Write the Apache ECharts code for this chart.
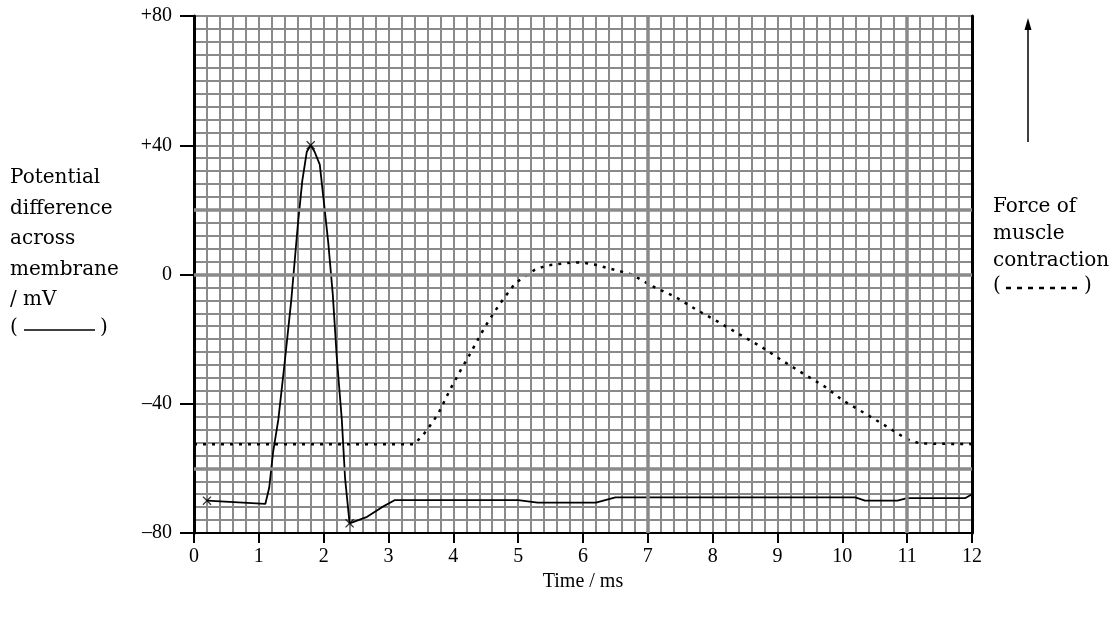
<!DOCTYPE html>
<html>
<head>
<meta charset="utf-8">
<script src="https://cdn.jsdelivr.net/npm/echarts@6/dist/echarts.min.js"></script>
<style>html,body{margin:0;padding:0;background:#fff}#c{width:1117px;height:617px}</style>
</head>
<body>
<div id="c"></div>
<script>
// Membrane potential (solid line), time in ms, potential in mV
const timesV = [0.2, 1.1, 1.16, 1.22, 1.3, 1.4, 1.5, 1.6, 1.67, 1.74, 1.8, 1.86, 1.94, 2.0, 2.07, 2.14, 2.2, 2.28, 2.33, 2.4, 2.67, 2.9, 3.1, 5.0, 5.3, 6.2, 6.5, 10.2, 10.35, 10.85, 11.0, 11.9, 12.0];
const potential = [-70, -71, -66, -55, -45, -27, -8, 15, 29, 38, 40, 38, 34, 23, 10, -6, -25, -45, -63, -77, -75, -72, -69.8, -69.8, -70.6, -70.6, -69, -69, -70, -70, -69.2, -69.2, -68];
// Force of muscle contraction (dotted line), plotted on the same scale
const timesF = [0, 3.4, 3.56, 3.67, 3.77, 3.95, 4.13, 4.23, 4.41, 4.5, 4.62, 4.72, 4.83, 4.95, 5.08, 5.26, 5.44, 5.83, 6.0, 6.19, 6.57, 6.75, 7.08, 7.27, 7.43, 7.75, 8.08, 8.42, 8.76, 9.07, 9.39, 9.73, 10.01, 10.35, 10.68, 11.0, 11.2, 12];
const force = [-52.5, -52.5, -49, -46, -43, -35.6, -29, -25.6, -19, -15.8, -12, -9, -6, -2.8, -0.9, 1.5, 2.8, 3.7, 3.7, 3, 1, 0, -3.7, -5.5, -7, -10.9, -14.6, -18.6, -22.5, -26.6, -30.6, -34.7, -39, -43, -47, -51, -52.3, -52.5];
// Crosses drawn on the potential curve
const crossT = [0.2, 1.8, 2.4];
const crossV = [-70, 40, -77];
// Thicker grid lines
const majorX = [7, 11];
const majorY = [20, 0, -60];
// Axis ranges / tick steps
const xTicks = [0, 12, 1];
const yTicks = [-80, 80, 40];

const FONT = 'Liberation Serif';
const SIDE = '20px "DejaVu Serif"';
const chart = echarts.init(document.getElementById('c'), null, {renderer: 'canvas'});
const zip = (a, b) => a.map((v, i) => [v, b[i]]);
const gridLine = {show: true, lineStyle: {color: '#8a8a8a', width: 2}};

chart.setOption({
  animation: false,
  backgroundColor: '#fff',
  grid: {left: 194, right: 145, top: 16, bottom: 84},
  xAxis: [
    {type: 'value', min: xTicks[0], max: xTicks[1], interval: 0.2, position: 'bottom',
     axisLine: {show: false}, axisTick: {show: false}, axisLabel: {show: false}, splitLine: gridLine},
    {type: 'value', min: xTicks[0], max: xTicks[1], interval: xTicks[2], position: 'bottom',
     axisLine: {show: true, onZero: false, lineStyle: {color: '#000', width: 2}},
     axisTick: {show: true, length: 10, lineStyle: {color: '#000', width: 2}},
     axisLabel: {color: '#000', fontFamily: FONT, fontSize: 20, margin: 14},
     splitLine: {show: false},
     name: 'Time / ms', nameLocation: 'middle', nameGap: 35,
     nameTextStyle: {color: '#000', fontFamily: FONT, fontSize: 20}}
  ],
  yAxis: [
    {type: 'value', min: yTicks[0], max: yTicks[1], interval: 4, position: 'right',
     axisLine: {show: true, onZero: false, lineStyle: {color: '#000', width: 3}},
     axisTick: {show: false}, axisLabel: {show: false}, splitLine: gridLine},
    {type: 'value', min: yTicks[0], max: yTicks[1], interval: yTicks[2], position: 'left',
     axisLine: {show: true, onZero: false, lineStyle: {color: '#000', width: 3}},
     axisTick: {show: true, length: 14, lineStyle: {color: '#000', width: 2}},
     axisLabel: {color: '#000', fontFamily: FONT, fontSize: 20, margin: 22,
       formatter: v => v > 0 ? '+' + v : (v < 0 ? '\u2013' + Math.abs(v) : '0')},
     splitLine: {show: false}}
  ],
  series: [
    {type: 'line', z: 1, data: [], silent: true,
     markLine: {silent: true, symbol: ['none', 'none'], label: {show: false},
       lineStyle: {color: '#8a8a8a', type: 'solid', width: 3.5},
       data: majorX.map(v => ({xAxis: v})).concat(majorY.map(v => ({yAxis: v})))}},
    {type: 'line', name: 'Force', data: zip(timesF, force), showSymbol: false, z: 3,
     lineStyle: {color: '#000', width: 2.5, type: [3, 6]}},
    {type: 'line', name: 'Potential', data: zip(timesV, potential), showSymbol: false, z: 4,
     lineStyle: {color: '#000', width: 1.8}},
    {type: 'scatter', data: zip(crossT, crossV), z: 5,
     symbol: 'path://M0,1L1,0L5,4L9,0L10,1L6,5L10,9L9,10L5,6L1,10L0,9L4,5Z', symbolSize: 9,
     itemStyle: {color: '#000'}}
  ],
  graphic: [
    {type: 'text', left: 10, top: 163, style: {text: 'Potential\ndifference\nacross\nmembrane\n/ mV', font: SIDE, fill: '#000', lineHeight: 30.4}},
    {type: 'text', left: 10, top: 318, style: {text: '(', font: SIDE, fill: '#000'}},
    {type: 'line', shape: {x1: 24, y1: 330, x2: 95, y2: 330}, style: {stroke: '#000', lineWidth: 1.5}},
    {type: 'text', left: 100, top: 318, style: {text: ')', font: SIDE, fill: '#000'}},
    {type: 'text', left: 993, top: 193, style: {text: 'Force of\nmuscle\ncontraction', font: SIDE, fill: '#000', lineHeight: 27}},
    {type: 'text', left: 993, top: 276, style: {text: '(', font: SIDE, fill: '#000'}},
    {type: 'line', shape: {x1: 1006, y1: 288, x2: 1082, y2: 288}, style: {stroke: '#000', lineWidth: 2.5, lineDash: [5, 6]}},
    {type: 'text', left: 1084, top: 276, style: {text: ')', font: SIDE, fill: '#000'}},
    {type: 'line', shape: {x1: 1028, y1: 142, x2: 1028, y2: 26}, style: {stroke: '#000', lineWidth: 1.5}},
    {type: 'polygon', shape: {points: [[1028, 18], [1024.5, 30], [1031.5, 30]]}, style: {fill: '#000'}}
  ]
});
</script>
</body>
</html>
